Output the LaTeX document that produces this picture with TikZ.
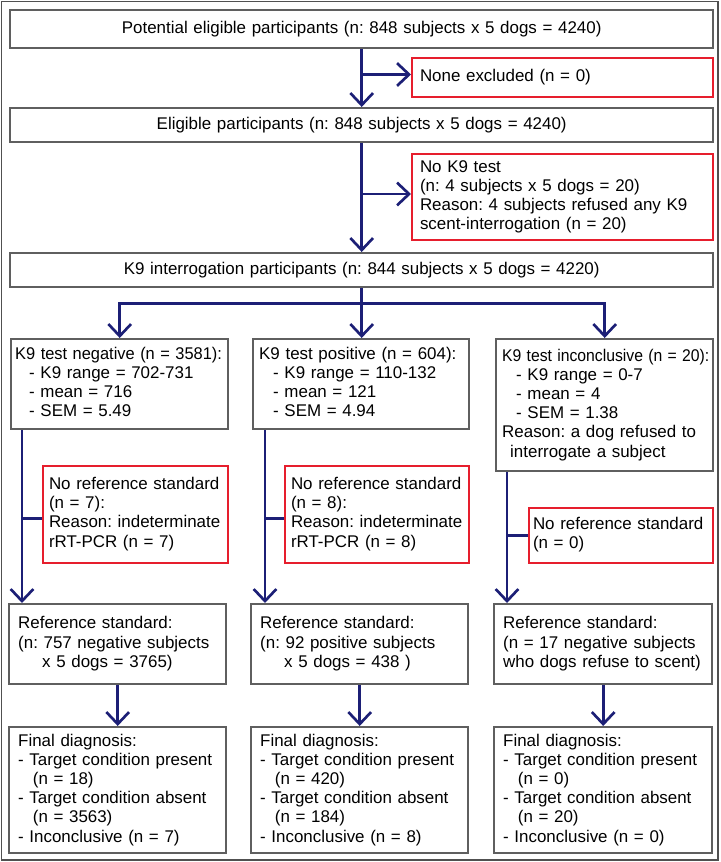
\documentclass[tikz,border=0pt]{standalone}
\usepackage{fontspec}
\setmainfont{Liberation Sans}
\usetikzlibrary{arrows.meta,calc}
\definecolor{navy}{RGB}{28,31,118}
\definecolor{boxgray}{RGB}{95,95,95}
\definecolor{boxred}{RGB}{230,30,45}
\definecolor{framegray}{RGB}{80,80,80}
\frenchspacing
\newcommand\myfont{\fontsize{12.7pt}{14.4pt}\selectfont\frenchspacing}
\newcommand\mybox[9]{% name, style, x1, y1, x2, y2, pad(px), align, text
  \pgfmathsetmacro\mybw{(#5-#3)*0.75}%
  \pgfmathsetmacro\mybh{(#6-#4)*0.75}%
  \pgfmathsetmacro\mytw{(#5-#3-2*#7)*0.75}%
  \pgfmathsetmacro\mypx{#7*0.75}%
  \node[#2, anchor=north west, minimum height=\mybh pt, text width=\mytw pt,
        inner xsep=\mypx pt, inner ysep=0pt, align=#8] (#1) at (#3,#4)
        {\begin{tabular}{@{}l@{}}#9\end{tabular}};}
\newcommand\ind[1]{\hspace*{#1pt}}
\tikzset{
  gbox/.style={draw=boxgray, line width=1.8pt, fill=white, font=\myfont},
  rbox/.style={draw=boxred, line width=1.5pt, fill=white, font=\myfont},
  ln/.style={draw=navy, line width=2pt},
  arr/.style={ln, -{Straight Barb[length=9pt,width=17pt]}},
}
\begin{document}
\begin{tikzpicture}[x=0.75pt,y=-0.75pt]
\useasboundingbox (0,0) rectangle (720,862);
\draw[framegray, line width=1.3pt] (1.5,1.5) rectangle (718,860);

% top section
\mybox{top}{gbox}{9}{9}{712}{47}{8}{center}{Potential eligible participants (n: 848 subjects x 5 dogs = 4240)}
\mybox{none}{rbox}{411}{57}{712}{96}{8}{left}{None excluded (n = 0)}
\mybox{elig}{gbox}{9}{107}{712}{141}{8}{center}{Eligible participants (n: 848 subjects x 5 dogs = 4240)}
\mybox{nok9}{rbox}{411}{153}{712}{239}{8}{left}{No K9 test\\(n: 4 subjects x 5 dogs = 20)\\Reason: 4 subjects refused any K9\\scent-interrogation (n = 20)}
\mybox{k9}{gbox}{9}{252}{712}{286}{8}{center}{K9 interrogation participants (n: 844 subjects x 5 dogs = 4220)}

% test result boxes
\mybox{neg}{gbox}{10}{338}{227}{428}{4}{left}{\scalebox{0.97}[1]{K9 test negative (n = 3581):}\\\ind{10.5}- K9 range = 702-731\\\ind{10.5}- mean = 716\\\ind{10.5}- SEM = 5.49}
\mybox{pos}{gbox}{252}{338}{468}{428}{6}{left}{K9 test positive (n = 604):\\\ind{10.5}- K9 range = 110-132\\\ind{10.5}- mean = 121\\\ind{10.5}- SEM = 4.94}
\mybox{inc}{gbox}{495}{338}{712}{470}{6}{left}{\scalebox{0.93}[1]{K9 test inconclusive (n = 20):}\\\ind{10.5}- K9 range = 0-7\\\ind{10.5}- mean = 4\\\ind{10.5}- SEM = 1.38\\Reason: a dog refused to\\\ind{6}interrogate a subject}

% no reference standard
\mybox{red1}{rbox}{42}{465}{227}{562}{6}{left}{No reference standard\\(n = 7):\\Reason: indeterminate\\rRT-PCR (n = 7)}
\mybox{red2}{rbox}{284}{465}{468}{562}{6}{left}{No reference standard\\(n = 8):\\Reason: indeterminate\\rRT-PCR (n = 8)}
\mybox{red3}{rbox}{528}{507}{712}{562}{4}{left}{No reference standard\\(n = 0)}

% reference standard
\mybox{ref1}{gbox}{8}{603}{225}{683}{9}{left}{Reference standard:\\(n: 757 negative subjects\\\ind{18}x 5 dogs = 3765)}
\mybox{ref2}{gbox}{250}{603}{467}{683}{9}{left}{Reference standard:\\(n: 92 positive subjects\\\ind{18}x 5 dogs = 438 )}
\mybox{ref3}{gbox}{493}{603}{711}{683}{9}{left}{Reference standard:\\(n = 17 negative subjects\\who dogs refuse to scent)}

% final diagnosis
\mybox{fin1}{gbox}{8}{726}{225}{852}{9}{left}{Final diagnosis:\\- Target condition present\\\ind{11}(n = 18)\\- Target condition absent\\\ind{11}(n = 3563)\\- Inconclusive (n = 7)}
\mybox{fin2}{gbox}{250}{726}{467}{852}{9}{left}{Final diagnosis:\\- Target condition present\\\ind{11}(n = 420)\\- Target condition absent\\\ind{11}(n = 184)\\- Inconclusive (n = 8)}
\mybox{fin3}{gbox}{493}{726}{711}{852}{9}{left}{Final diagnosis:\\- Target condition present\\\ind{11}(n = 0)\\- Target condition absent\\\ind{11}(n = 20)\\- Inconclusive (n = 0)}

% connectors top
\draw[arr] (top.south) -- (elig.north);
\draw[arr] ($(none.west -| top.south)+(0,-3)$) -- ($(none.west)+(0,-3)$);
\draw[arr] (elig.south) -- (k9.north);
\draw[arr] ($(nok9.west -| elig.south)+(0,-3)$) -- ($(nok9.west)+(0,-3)$);

% split
\coordinate (split) at ($(k9.south)+(0,15)$);
\draw[arr] (k9.south) -- (pos.north -| k9.south);
\draw[arr] (split) -| (neg.north);
\draw[arr] (split) -| (inc.north);

% side lines
\coordinate (s1) at ($(neg.south west)+(12,0)$);
\coordinate (s2) at ($(pos.south west)+(13,0)$);
\coordinate (s3) at ($(inc.south west)+(12,0)$);
\draw[arr] (s1) -- (s1 |- ref1.north);
\draw[arr] (s2) -- (s2 |- ref2.north);
\draw[arr] (s3) -- (s3 |- ref3.north);
\draw[ln] ($(s1 |- red1.west)+(0,4)$) -- ($(red1.west)+(0,4)$);
\draw[ln] ($(s2 |- red2.west)+(0,4)$) -- ($(red2.west)+(0,4)$);
\draw[ln] (s3 |- red3.west) -- (red3.west);

% ref -> final
\draw[arr] (ref1.south) -- (fin1.north);
\draw[arr] (ref2.south) -- (fin2.north);
\draw[arr] (ref3.south) -- (fin3.north);
\end{tikzpicture}
\end{document}
